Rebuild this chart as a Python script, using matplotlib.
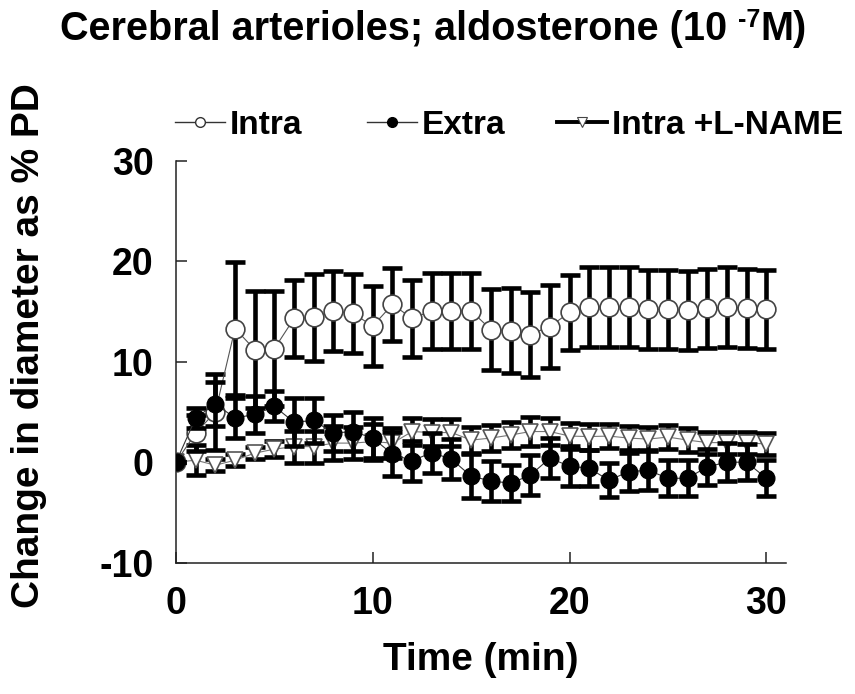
import matplotlib
matplotlib.use("Agg")
import matplotlib.pyplot as plt
from matplotlib.lines import Line2D

plt.rcParams['font.family'] = ['Liberation Sans', 'DejaVu Sans']
plt.rcParams['font.weight'] = 'bold'
plt.rcParams['axes.unicode_minus'] = False

time = list(range(0, 31))

intra = [0, 2.9, 5.0, 13.3, 11.2, 11.3, 14.3, 14.4, 15.05, 14.8, 13.55, 15.7, 14.3,
         15.05, 15.05, 15.05, 13.2, 13.1, 12.7, 13.5, 14.9, 15.45, 15.45, 15.45,
         15.2, 15.2, 15.1, 15.3, 15.45, 15.3, 15.2]
intra_err = [0, 1.8, 3.8, 6.6, 5.8, 5.7, 3.8, 4.3, 3.95, 3.9, 3.95, 3.65, 3.8, 3.75,
             3.75, 3.75, 4.0, 4.2, 4.25, 4.1, 3.7, 3.95, 3.95, 3.95, 3.95, 3.95,
             3.95, 3.95, 3.95, 3.95, 3.95]

extra = [0, 4.4, 5.8, 4.4, 4.75, 5.55, 3.98, 4.15, 2.9, 3.05, 2.4, 0.8, 0.15, 0.95,
         0.3, -1.4, -1.85, -2.1, -1.3, 0.4, -0.4, -0.6, -1.8, -0.95, -0.8, -1.6,
         -1.6, -0.45, 0.0, 0.0, -1.6]
extra_err = [0, 1.0, 2.2, 2.0, 1.8, 1.5, 2.4, 2.2, 1.8, 1.9, 2.0, 2.2, 2.0, 2.0, 2.0,
             2.2, 2.0, 1.8, 2.0, 2.0, 2.0, 1.8, 1.7, 1.9, 2.0, 1.8, 1.8, 1.8, 1.9,
             1.8, 1.8]

lname = [0, 0.2, -0.3, 0.2, 0.9, 1.3, 1.55, 1.55, 1.9, 1.9, 2.05, 1.9, 3.05, 2.95,
         2.95, 2.2, 2.4, 2.7, 3.05, 3.05, 2.6, 2.55, 2.6, 2.4, 2.3, 2.5, 2.2, 1.95,
         1.95, 1.95, 1.8]
lname_err = [0, 1.5, 0.6, 0.6, 0.6, 0.8, 1.6, 1.6, 1.7, 1.6, 1.8, 1.5, 1.3, 1.3, 1.3,
             1.3, 1.3, 1.3, 1.4, 1.3, 1.3, 1.3, 1.2, 1.2, 1.2, 1.2, 1.2, 1.1, 1.1,
             1.1, 1.1]

labels = ["Intra", "Extra", "Intra +L-NAME"]
title_parts = ["Cerebral arterioles; aldosterone (10 ", "-7", "M)"]
xlabel = "Time (min)"
ylabel = "Change in diameter as % PD"
xticks = [0, 10, 20, 30]
yticks = [-10, 0, 10, 20, 30]

fig = plt.figure(figsize=(8.55, 6.94), dpi=100)
ax = fig.add_axes([176/855, 1 - 562.7/694, 610/855, 402/694])

eb_kw = dict(ecolor='black', elinewidth=3.3, capsize=7, capthick=3.3)

ax.errorbar(time, lname, yerr=lname_err, fmt='none', zorder=1, **eb_kw)
ax.plot(time, lname, color='#777777', lw=0.8, zorder=1.5,
        marker='v', markersize=12, markerfacecolor='white',
        markeredgecolor='#555555', markeredgewidth=1.2)

ax.errorbar(time, intra, yerr=intra_err, fmt='none', zorder=2, **eb_kw)
ax.plot(time, intra, color='#555555', lw=0.8, zorder=2.5,
        marker='o', markersize=13.5, markerfacecolor='white',
        markeredgecolor='#444444', markeredgewidth=1.2)

ax.errorbar(time, extra, yerr=extra_err, fmt='none', zorder=3, **eb_kw)
ax.plot(time, extra, color='#333333', lw=0.8, zorder=3.5,
        marker='o', markersize=12, markerfacecolor='black',
        markeredgecolor='black')

ax.set_xlim(0, 31)
ax.set_ylim(-10, 30)
ax.set_xticks(xticks)
ax.set_yticks(yticks)
ax.spines['top'].set_visible(False)
ax.spines['right'].set_visible(False)
for s in ('left', 'bottom'):
    ax.spines[s].set_linewidth(1.1)
    ax.spines[s].set_color('#222222')
    ax.spines[s].set_zorder(0.5)
ax.tick_params(direction='in', length=8, width=1.1, labelsize=27, color='#222222')
ax.tick_params(axis='y', pad=16)
ax.tick_params(axis='x', pad=17)
for lab in ax.get_xticklabels() + ax.get_yticklabels():
    lab.set_fontweight('bold')

ax.set_xlabel(xlabel, fontsize=28, fontweight='bold', labelpad=14)
ax.set_ylabel(ylabel, fontsize=28, fontweight='bold')
ax.yaxis.set_label_coords(-0.212, 0.54)

# Title with a small raised "-7"
renderer = fig.canvas.get_renderer()
base_y = 694 - 40
t1 = fig.text(0, base_y / 694, title_parts[0], fontsize=28.5, fontweight='bold',
              ha='left', va='baseline')
t2 = fig.text(0, base_y / 694, title_parts[1], fontsize=18, fontweight='bold',
              ha='left', va='baseline')
t3 = fig.text(0, base_y / 694, title_parts[2], fontsize=28.5, fontweight='bold',
              ha='left', va='baseline')
w1 = t1.get_window_extent(renderer).width
w2 = t2.get_window_extent(renderer).width
w3 = t3.get_window_extent(renderer).width
total = w1 + w2 + w3
x0 = 433 - total / 2
t1.set_position((x0 / 855, base_y / 694))
t2.set_position(((x0 + w1) / 855, (base_y + 13) / 694))
t3.set_position(((x0 + w1 + w2) / 855, base_y / 694))

handles = [
    Line2D([], [], color='#333333', lw=1.0, marker='o', markersize=7,
           markerfacecolor='white', markeredgecolor='#333333'),
    Line2D([], [], color='#333333', lw=1.0, marker='o', markersize=7,
           markerfacecolor='black', markeredgecolor='black'),
    Line2D([], [], color='black', lw=2.8, marker='v', markersize=7,
           markerfacecolor='white', markeredgecolor='#444444', markeredgewidth=0.8),
]
leg_x = [175, 367, 557]
for h, lab, lx in zip(handles, labels, leg_x):
    fig.legend([h], [lab], loc='center left',
               bbox_to_anchor=(lx/855, 1 - 125/694), frameon=False,
               prop=dict(family='Liberation Sans', weight='bold', size=24),
               handlelength=1.5, handletextpad=0.15,
               borderpad=0, borderaxespad=0)

fig.savefig("out.png", dpi=100)
